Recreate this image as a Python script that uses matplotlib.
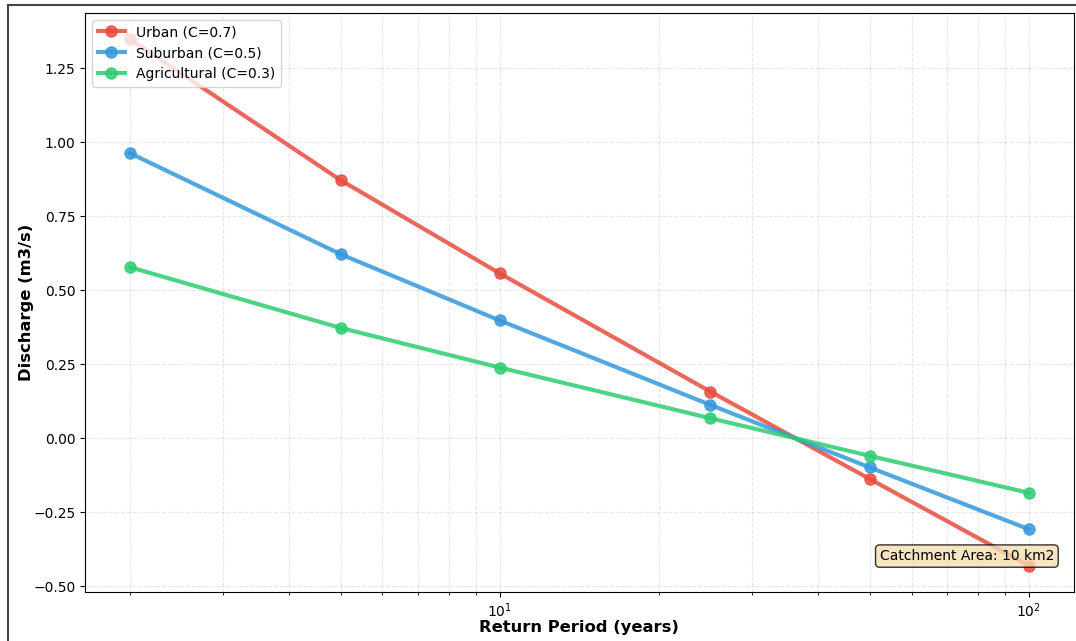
import matplotlib
matplotlib.use('Agg')
import matplotlib.pyplot as plt
from matplotlib.patches import Rectangle

# Data
return_periods = [2, 5, 10, 25, 50, 100]
urban = [1.348, 0.872, 0.557, 0.158, -0.137, -0.430]
suburban = [0.963, 0.622, 0.398, 0.113, -0.098, -0.307]
agricultural = [0.578, 0.373, 0.239, 0.068, -0.059, -0.184]

labels = ['Urban (C=0.7)', 'Suburban (C=0.5)', 'Agricultural (C=0.3)']
colors = ['#e74c3c', '#3498db', '#2ecc71']

fig = plt.figure(figsize=(10.76, 6.41), dpi=100)
ax = fig.add_axes([0.079, 0.0764, 0.919, 0.9036])

for vals, lab, col in zip([urban, suburban, agricultural], labels, colors):
    ax.plot(return_periods, vals, marker='o', color=col, linewidth=3,
            markersize=8, alpha=0.85, label=lab)

ax.set_xscale('log')
ax.set_xlabel('Return Period (years)', fontsize=11.8, fontweight='bold', labelpad=-0.5)
ax.set_ylabel('Discharge (m3/s)', fontsize=11.8, fontweight='bold', labelpad=-0.5)
ax.grid(True, which='both', linestyle='--', alpha=0.3)
ax.legend(loc='upper left', fontsize=10)

ax.text(0.98, 0.05, 'Catchment Area: 10 km2', transform=ax.transAxes,
        ha='right', va='bottom', fontsize=10,
        bbox=dict(boxstyle='round', facecolor='wheat', alpha=0.8))

# outer frame of the screenshot
fig.patches.append(Rectangle((8 / 1076, -0.2), 1.2, 0.992 + 0.2,
                             transform=fig.transFigure, fill=False,
                             edgecolor='#444444', linewidth=1.5))

fig.savefig('out.png', dpi=100)
